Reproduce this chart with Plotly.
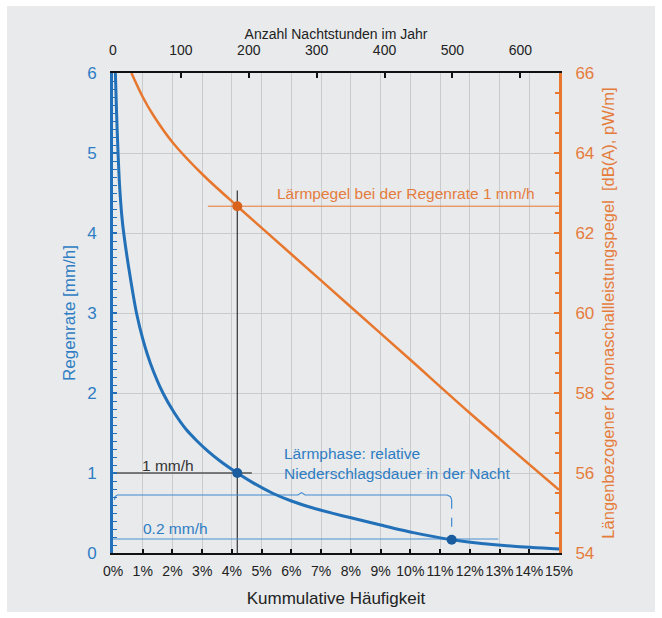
import plotly.graph_objects as go

# ---------------- data ----------------
# Blue curve: rain rate [mm/h] vs cumulative frequency [%]
rain_pct = [0.08, 0.12, 0.17, 0.22, 0.30, 0.36, 0.54, 0.79, 1.02, 1.26, 1.68, 2.05, 2.47, 2.8, 3.2, 3.6, 4.18, 4.7, 5.35, 6.0, 6.7, 7.4, 8.0, 9.0, 10.1, 11.39, 12.4, 13.47, 15.0]
rain_rate = [6.0, 5.5, 5.0, 4.6, 4.2, 4.0, 3.54, 3.0, 2.65, 2.37, 2.0, 1.76, 1.54, 1.41, 1.27, 1.15, 1.0, 0.88, 0.75, 0.65, 0.565, 0.495, 0.44, 0.35, 0.255, 0.166, 0.12, 0.085, 0.05]

# Orange curve: sound power level [dB(A), pW/m] vs cumulative frequency [%]
noise_pct = [0.62, 1.0, 1.35, 2.02, 3.03, 4.18, 6.0, 8.0, 10.0, 12.0, 15.0]
noise_db = [66.0, 65.4, 64.95, 64.25, 63.45, 62.67, 61.47, 60.15, 58.83, 57.5, 55.58]

pct_ticks = list(range(0, 16))
pct_labels = [f"{v}%" for v in pct_ticks]
hour_ticks = [0, 100, 200, 300, 400, 500, 600]
night_hours_per_year = 4380
left_ticks = [0, 1, 2, 3, 4, 5, 6]
right_ticks = [54, 56, 58, 60, 62, 64, 66]

# annotation reference values
p1_pct, p1_rate, p1_db = 4.18, 1.0, 62.67
p2_pct, p2_rate = 11.39, 0.166
line02_rate, line02_end = 0.175, 12.96
bracket_y, bracket_end, bracket_mid = 0.725, 11.39, 6.34

BLUE = "#2170b8"
BLUE_TXT = "#2f7dc3"
DBLUE = "#1b5c9e"
ORANGE = "#e8772e"
ORANGE_TXT = "#e57c3c"
GRID = "#c9cbcd"
PANEL = "#e8eaec"
FONT = "Arial, Liberation Sans, sans-serif"

fig = go.Figure()

# helper lines
fig.add_trace(go.Scatter(x=[0, 4.67], y=[p1_rate, p1_rate], mode="lines",
                         line=dict(color="#555555", width=1.5), hoverinfo="skip"))
fig.add_trace(go.Scatter(x=[p1_pct, p1_pct], y=[0, 4.53], mode="lines",
                         line=dict(color="#333333", width=1.2), hoverinfo="skip"))
fig.add_trace(go.Scatter(x=[0, line02_end], y=[line02_rate, line02_rate], mode="lines",
                         line=dict(color="#4a90d0", width=1.2), hoverinfo="skip"))
# bracket
bx = [0.05, 0.07, 0.15, 0.3, bracket_mid - 0.12, bracket_mid, bracket_mid + 0.12, bracket_end - 0.3, bracket_end - 0.15, bracket_end - 0.04, bracket_end]
by = [bracket_y - 0.06, bracket_y - 0.02, bracket_y, bracket_y, bracket_y, bracket_y + 0.03, bracket_y, bracket_y, bracket_y, bracket_y - 0.02, bracket_y - 0.06]
fig.add_trace(go.Scatter(x=bx, y=by, mode="lines", line=dict(color="#3f8ad0", width=1.2),
                         hoverinfo="skip"))
fig.add_trace(go.Scatter(x=[bracket_end, bracket_end], y=[bracket_y - 0.06, p2_rate], mode="lines",
                         line=dict(color="#3f8ad0", width=1.2, dash="dash"), hoverinfo="skip"))
fig.add_trace(go.Scatter(x=[3.19, 15], y=[p1_db, p1_db], mode="lines", yaxis="y2",
                         line=dict(color=ORANGE, width=1), hoverinfo="skip"))

# main curves
fig.add_trace(go.Scatter(x=noise_pct, y=noise_db, mode="lines", yaxis="y2",
                         line=dict(color=ORANGE, width=2.5, shape="spline", smoothing=0.8), name="noise"))
fig.add_trace(go.Scatter(x=rain_pct, y=rain_rate, mode="lines",
                         line=dict(color=BLUE, width=3, shape="spline", smoothing=0.7), name="rain"))

# markers
fig.add_trace(go.Scatter(x=[p1_pct, p2_pct], y=[p1_rate, p2_rate], mode="markers",
                         marker=dict(color=DBLUE, size=10), hoverinfo="skip"))
fig.add_trace(go.Scatter(x=[p1_pct], y=[p1_db], mode="markers", yaxis="y2",
                         marker=dict(color="#d9621c", size=10), hoverinfo="skip"))

# invisible trace for top axis
fig.add_trace(go.Scatter(x=[0], y=[0], xaxis="x2", mode="markers",
                         marker=dict(opacity=0), hoverinfo="skip"))

annotations = [
    dict(x=9.87, y=62.98, yref="y2", text="Lärmpegel bei der Regenrate 1 mm/h",
         font=dict(color=ORANGE_TXT, size=15.5)),
    dict(x=1.85, y=1.10, yref="y", text="1 mm/h", font=dict(color="#333333", size=15.5)),
    dict(x=2.1, y=0.31, yref="y", text="0.2 mm/h", font=dict(color=BLUE_TXT, size=15.5)),
    dict(x=5.67, y=1.24, yref="y", text="Lärmphase: relative", xanchor="left",
         font=dict(color=BLUE_TXT, size=15.5)),
    dict(x=5.67, y=1.0, yref="y", text="Niederschlagsdauer in der Nacht", xanchor="left",
         font=dict(color=BLUE_TXT, size=15.5)),
]
for a in annotations:
    a.setdefault("xref", "x")
    a.setdefault("xanchor", "center")
    a["showarrow"] = False
    a["yanchor"] = "middle"

L, R, T, B = 113, 103, 73, 65
W, H = 662, 618
pw, ph = W - L - R, H - T - B

def px(xpix):
    return (xpix - L) / pw

def py(ypix):
    return (H - B - ypix) / ph

fig.update_layout(
    width=W, height=H,
    margin=dict(l=L, r=R, t=T, b=B),
    paper_bgcolor="white",
    plot_bgcolor=PANEL,
    showlegend=False,
    font=dict(family=FONT, color="#222222"),
    annotations=annotations,
    shapes=[dict(type="rect", xref="paper", yref="paper",
                 x0=px(7), x1=px(655), y0=py(612), y1=py(6),
                 fillcolor=PANEL, line=dict(width=0), layer="below")],
    xaxis=dict(range=[0, 15], tickvals=pct_ticks, ticktext=pct_labels, tickangle=0,
               showgrid=True, gridcolor=GRID, gridwidth=1.3,
               ticks="inside", ticklen=4, tickwidth=1.5, tickcolor="#111111",
               showline=True, linecolor="#111111", linewidth=2,
               tickfont=dict(size=14, color="#222222"), ticklabelstandoff=4,
               title=dict(text="Kummulative Häufigkeit", font=dict(size=17, color="#222222"), standoff=14),
               zeroline=False),
    xaxis2=dict(range=[0, 0.15 * night_hours_per_year], overlaying="x", side="top",
                tickvals=hour_ticks, showgrid=False, tickangle=0,
                ticks="inside", ticklen=5, tickwidth=1.5, tickcolor="#111111",
                showline=True, linecolor="#111111", linewidth=2,
                tickfont=dict(size=14, color="#222222"), ticklabelstandoff=10,
                title=dict(text="Anzahl Nachtstunden im Jahr", font=dict(size=14, color="#222222"), standoff=0),
                zeroline=False),
    yaxis=dict(range=[0, 6], tickvals=left_ticks, showgrid=True, gridcolor=GRID, gridwidth=1.3,
               ticks="inside", ticklen=4, tickwidth=1.5, tickcolor=BLUE,
               minor=dict(dtick=0.1, ticks="inside", ticklen=4, tickwidth=1.2, tickcolor=BLUE, showgrid=False),
               showline=True, linecolor=BLUE, linewidth=3,
               tickfont=dict(size=17, color=BLUE_TXT), ticklabelstandoff=10,
               title=dict(text="Regenrate [mm/h]", font=dict(size=17, color=BLUE_TXT), standoff=8),
               zeroline=False),
    yaxis2=dict(range=[54, 66], tickvals=right_ticks, overlaying="y", side="right",
                showgrid=False,
                ticks="inside", ticklen=5, tickwidth=1.5, tickcolor=ORANGE,
                minor=dict(dtick=0.5, ticks="inside", ticklen=4, tickwidth=1.5, tickcolor=ORANGE, showgrid=False),
                showline=True, linecolor=ORANGE, linewidth=3,
                tickfont=dict(size=17, color=ORANGE_TXT), ticklabelstandoff=10,
                title=dict(text="Längenbezogener Koronaschallleistungspegel \u00a0[dB(A), pW/m]",
                           font=dict(size=16.5, color=ORANGE_TXT), standoff=10),
                zeroline=False),
)

fig.write_html("out.html")
